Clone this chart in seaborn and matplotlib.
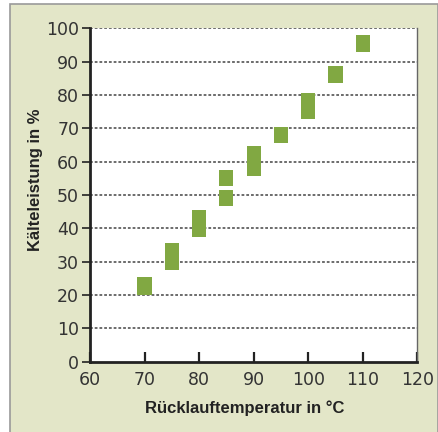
import matplotlib
matplotlib.use("Agg")
import matplotlib.pyplot as plt
import matplotlib.patches as mpatches
import seaborn as sns
import numpy as np

# Data: Rücklauftemperatur (°C) and range of Kälteleistung (%)
temps = [70, 75, 80, 85, 85, 90, 95, 100, 105, 110]
low = [20.0, 27.6, 37.5, 46.8, 52.8, 55.8, 65.7, 72.9, 83.7, 92.9]
high = [25.4, 35.5, 45.5, 51.5, 57.5, 64.7, 70.4, 80.6, 88.7, 98.0]
xticks = [60, 70, 80, 90, 100, 110, 120]
yticks = [0, 10, 20, 30, 40, 50, 60, 70, 80, 90, 100]
xlabel = "Rücklauftemperatur in °C"
ylabel = "Kälteleistung in %"

sns.set_theme(style="white")
plt.rcParams['font.family'] = ['DejaVu Sans']

W, H = 439, 432
fig = plt.figure(figsize=(W / 100, H / 100), dpi=100, facecolor="white")

# beige panel with gray frame (open at the bottom edge)
panel = mpatches.Rectangle((10 / W, -0.02), (W - 11) / W, (H - 4) / H + 0.02,
                           transform=fig.transFigure, facecolor="#E3E6C8",
                           edgecolor="#9a9a9a", linewidth=1.2, zorder=-10)
fig.patches.append(panel)

ax = fig.add_axes([90 / W, 1 - 361.7 / H, 327.3 / W, 333.4 / H])
ax.set_zorder(1)
ax.set_facecolor("white")

heights = np.array(high) - np.array(low)
ax.bar(temps, heights, bottom=low, width=2.6, color="#81A842", linewidth=0, zorder=3)

ax.set_xlim(60, 120)
ax.set_ylim(0, 100)
ax.set_xticks(xticks)
ax.set_yticks(yticks)

for y in yticks[1:]:
    ax.axhline(y, color="#444444", linewidth=1.1, linestyle=(0, (1.8, 1.3)), zorder=2)

for side in ["left", "bottom"]:
    ax.spines[side].set_visible(True)
    ax.spines[side].set_color("#222222")
    ax.spines[side].set_linewidth(2.0)
ax.spines["right"].set_visible(True)
ax.spines["right"].set_color("#666666")
ax.spines["right"].set_linewidth(1.0)
ax.spines["top"].set_visible(False)

ax.tick_params(axis="x", direction="in", length=7, width=1.6, color="#222222",
               pad=6.5, labelsize=12.5, labelcolor="#333333", bottom=True)
ax.tick_params(axis="y", direction="out", length=5.8, width=1.2, color="#222222",
               pad=2, labelsize=12.5, labelcolor="#333333", left=True)

ax.set_xlabel(xlabel, fontsize=12, fontweight="bold", color="#222222",
              family=["Liberation Sans", "DejaVu Sans"])
ax.set_ylabel(ylabel, fontsize=12, fontweight="bold", color="#222222",
              family=["Liberation Sans", "DejaVu Sans"])
ax.xaxis.set_label_coords(0.472, -0.115)
ax.yaxis.set_label_coords(-0.144, 0.545)

fig.savefig("out.png", dpi=100, facecolor="white")
